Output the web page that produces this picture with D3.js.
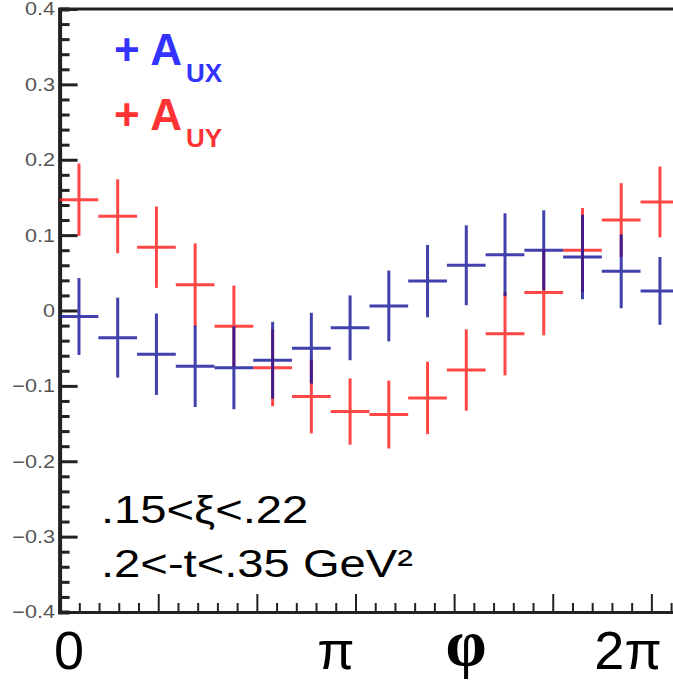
<!DOCTYPE html>
<html>
<head>
<meta charset="utf-8">
<script src="https://d3js.org/d3.v7.min.js"></script>
<style>
  body { margin: 0; background: #fff; }
  svg { display: block; }
</style>
</head>
<body>
  <div id="my_dataviz"></div>
  <script>
    // bin centres in degrees, 16 bins over the full turn
    var phiDeg = [11.25, 33.75, 56.25, 78.75, 101.25, 123.75, 146.25, 168.75,
                  191.25, 213.75, 236.25, 258.75, 281.25, 303.75, 326.25, 348.75];
    var binHalfDeg = 11.25;

    var aux    = [-0.008, -0.036, -0.058, -0.074, -0.076, -0.066, -0.050, -0.023,
                   0.006,  0.039,  0.060,  0.074,  0.080,  0.071,  0.052,  0.026];
    var auxErr = [0.051, 0.053, 0.054, 0.054, 0.055, 0.051, 0.047, 0.043,
                  0.047, 0.048, 0.053, 0.055, 0.053, 0.056, 0.049, 0.045];

    var auy    = [0.147, 0.125, 0.084, 0.034, -0.021, -0.076, -0.114, -0.134,
                  -0.138, -0.116, -0.079, -0.031, 0.024, 0.080, 0.120, 0.144];
    var auyErr = [0.048, 0.049, 0.054, 0.055, 0.054, 0.051, 0.049, 0.044,
                  0.045, 0.048, 0.054, 0.055, 0.057, 0.056, 0.049, 0.047];

    var yTicks = [0.4, 0.3, 0.2, 0.1, 0, -0.1, -0.2, -0.3, -0.4];
    var xLabels = [{t: "0", v: 0}, {t: "π", v: Math.PI}, {t: "2π", v: 2 * Math.PI}];

    var width = 673, height = 680;
    var rad = Math.PI / 180;

    var svg = d3.select("#my_dataviz")
      .append("svg")
      .attr("width", width)
      .attr("height", height);

    var x = d3.scaleLinear().domain([0, 2 * Math.PI]).range([59.6, 679.3]);
    var y = d3.scaleLinear().domain([-0.4, 0.4]).range([612, 9]);

    // frame top
    svg.append("line")
      .attr("x1", x(0)).attr("x2", width)
      .attr("y1", y(0.4)).attr("y2", y(0.4))
      .style("stroke", "#222").style("stroke-width", 3);

    // y axis: majors every 0.1, minors every 0.02
    var yAxis = d3.axisRight(y)
      .tickValues(d3.range(-0.4, 0.4001, 0.02))
      .tickSize(10).tickFormat("");
    var gy = svg.append("g").attr("transform", "translate(" + x(0) + ",0)").call(yAxis);
    gy.selectAll("line").style("stroke", "#222").style("stroke-width", 3)
      .attr("x2", function (d) { return Math.abs(Math.round(d * 10) - d * 10) < 1e-6 ? 18 : 10; });
    gy.select(".domain").style("stroke", "#222").style("stroke-width", 4);

    // x axis: majors every 1 rad, minors every 0.2 rad
    var xAxis = d3.axisTop(x)
      .tickValues(d3.range(0, 2 * Math.PI, 0.2))
      .tickSize(9).tickFormat("");
    var gx = svg.append("g").attr("transform", "translate(0," + y(-0.4) + ")").call(xAxis);
    gx.selectAll("line").style("stroke", "#222").style("stroke-width", 2)
      .attr("y2", function (d) { return Math.abs(Math.round(d) - d) < 1e-6 ? -18 : -9; });
    gx.select(".domain").style("stroke", "#222").style("stroke-width", 3);

    // y tick labels (stretched a bit like the original)
    svg.selectAll(".ylab")
      .data(yTicks)
      .enter()
      .append("text")
      .attr("transform", function (d) { return "translate(55," + y(d) + ") scale(1.2,1)"; })
      .attr("dy", "0.36em")
      .attr("text-anchor", "end")
      .style("font-family", "Liberation Sans, Arial, sans-serif")
      .style("font-size", "18px")
      .style("fill", "#555")
      .text(function (d) { return d === 0 ? "0" : d3.format(".1f")(d).replace("-", "−"); });

    function drawSeries(vals, errs, color, cls) {
      var g = svg.append("g").attr("class", cls).style("opacity", 0.8);
      g.selectAll("line.h")
        .data(vals)
        .enter()
        .append("line")
        .attr("x1", function (d, i) { return x((phiDeg[i] - binHalfDeg) * rad); })
        .attr("x2", function (d, i) { return x((phiDeg[i] + binHalfDeg) * rad); })
        .attr("y1", function (d) { return y(d); })
        .attr("y2", function (d) { return y(d); })
        .style("stroke", color).style("stroke-width", 3);
      g.selectAll("line.v")
        .data(vals)
        .enter()
        .append("line")
        .attr("x1", function (d, i) { return x(phiDeg[i] * rad); })
        .attr("x2", function (d, i) { return x(phiDeg[i] * rad); })
        .attr("y1", function (d, i) { return y(d + errs[i]); })
        .attr("y2", function (d, i) { return y(d - errs[i]); })
        .style("stroke", color).style("stroke-width", 3);
    }
    drawSeries(auy, auyErr, "#ff1a1a", "auy");
    drawSeries(aux, auxErr, "#12129a", "aux");

    // legend
    var leg = [{sub: "UX", color: "#3333ff", base: 65}, {sub: "UY", color: "#ff3333", base: 130}];
    leg.forEach(function (l) {
      var t = svg.append("text")
        .attr("x", 114).attr("y", l.base)
        .style("font-family", "Liberation Sans, Arial, sans-serif")
        .style("font-weight", "bold")
        .style("font-size", "44px")
        .style("fill", l.color);
      t.append("tspan").text("+ A");
      t.append("tspan").attr("dx", 4).attr("dy", 17).style("font-size", "26px").text(l.sub);
    });

    // kinematic bin annotation
    var notes = [{t: ".15<ξ<.22", base: 523}, {t: ".2<-t<.35 GeV²", base: 577}];
    svg.selectAll(".note")
      .data(notes)
      .enter()
      .append("text")
      .attr("transform", function (d) { return "translate(101," + d.base + ") scale(1.21,1)"; })
      .style("font-family", "Liberation Sans, Arial, sans-serif")
      .style("font-size", "39px")
      .style("fill", "#000")
      .text(function (d) { return d.t; });

    // big axis labels
    var labX = {"0": 69, "π": 336, "2π": 628};
    svg.selectAll(".xlab")
      .data(xLabels)
      .enter()
      .append("text")
      .attr("x", function (d) { return labX[d.t]; })
      .attr("y", 669)
      .attr("text-anchor", "middle")
      .style("font-family", "Liberation Sans, Arial, sans-serif")
      .style("font-size", "54px")
      .style("fill", "#000")
      .text(function (d) { return d.t; });

    svg.append("text")
      .attr("x", 466).attr("y", 665)
      .attr("text-anchor", "middle")
      .style("font-family", "Liberation Serif, DejaVu Serif, serif")
      .style("font-weight", "bold")
      .style("font-size", "66px")
      .style("fill", "#000")
      .text("φ");
  </script>
</body>
</html>
